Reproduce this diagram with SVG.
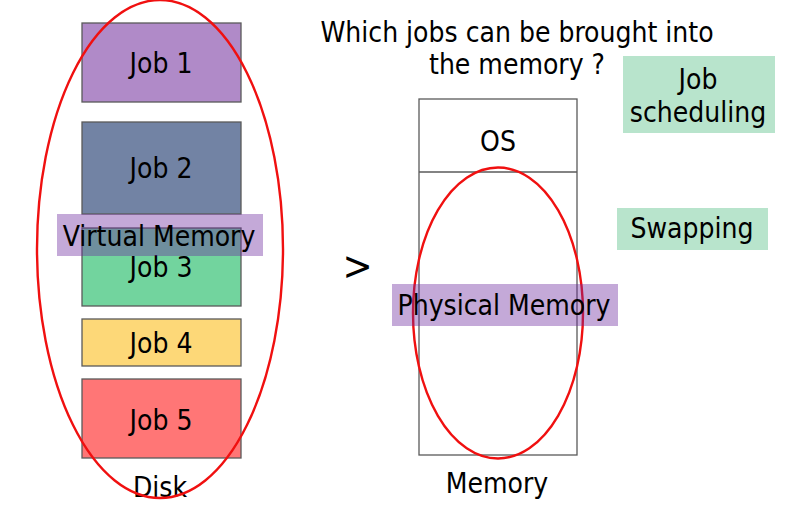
<svg xmlns="http://www.w3.org/2000/svg" width="796" height="522" viewBox="0 0 796 522">
<style>
text{font-family:"DejaVu Sans Condensed","DejaVu Sans",sans-serif;font-size:28px;fill:#000;text-anchor:middle}
.job{stroke:#5a5a5a;stroke-width:1.3}
.ring{fill:none;stroke:#f01010;stroke-width:2.4}
.tag{fill:#6b289e;fill-opacity:0.4}
.green{fill:#b8e4cc}
</style>
<rect width="796" height="522" fill="#fff"/>
<g id="job1"><rect class="job" x="82" y="23" width="159" height="79" fill="#b08ac8"/><text x="161" y="73">Job 1</text></g>
<g id="job2"><rect class="job" x="82" y="122" width="159" height="92" fill="#7283a4"/><text x="161" y="178">Job 2</text></g>
<g id="job3"><rect class="job" x="82" y="228" width="159" height="78" fill="#72d49e"/><text x="161" y="277">Job 3</text></g>
<g id="job4"><rect class="job" x="82" y="319" width="159" height="47" fill="#fdd878"/><text x="161" y="353">Job 4</text></g>
<g id="job5"><rect class="job" x="82" y="379" width="159" height="79" fill="#ff7676"/><text x="161" y="430">Job 5</text></g>
<g id="disk"><text x="160" y="497">Disk</text><ellipse class="ring" cx="160" cy="249" rx="123" ry="249"/></g>
<g id="virtual-memory"><rect class="tag" x="57" y="214" width="206" height="42"/><text x="159" y="246">Virtual Memory</text></g>
<g id="title"><text x="517" y="42">Which jobs can be brought into</text><text x="517" y="74">the memory ?</text></g>
<g id="memory"><rect x="419" y="99" width="158" height="356" fill="#fff" stroke="#5a5a5a" stroke-width="1.3"/><line x1="419" y1="172" x2="577" y2="172" stroke="#5a5a5a" stroke-width="1.3"/><text x="498" y="151">OS</text><text x="497" y="493">Memory</text></g>
<g id="physical-ring"><ellipse class="ring" cx="498" cy="313" rx="85" ry="145.5"/></g>
<g id="physical-memory"><rect class="tag" x="392" y="284" width="226" height="42"/><text x="504" y="315">Physical Memory</text></g>
<g id="gt"><text x="357.5" y="280" style="font-size:40px">&gt;</text></g>
<g id="job-scheduling"><rect class="green" x="623" y="56" width="152" height="77"/><text x="698" y="89">Job</text><text x="698" y="122">scheduling</text></g>
<g id="swapping"><rect class="green" x="617" y="208" width="151" height="42"/><text x="692" y="238">Swapping</text></g>
<g id="connectors"/>
</svg>
